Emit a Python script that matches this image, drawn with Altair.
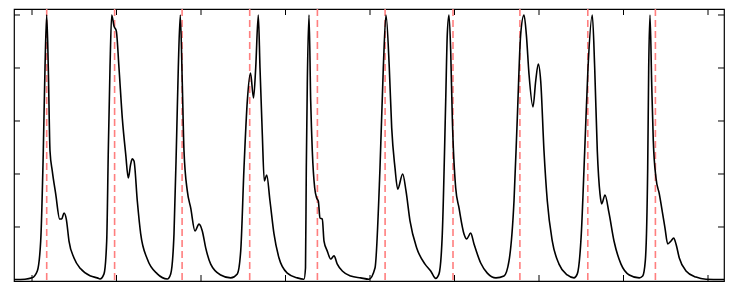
import altair as alt
import pandas as pd

# signal trace (time units, normalised amplitude)
sig_x = [
    0, 11, 18, 23.3, 26.7, 29.3, 31, 32.7, 34.3, 36, 38.3, 41.7, 45.7, 47.7, 50, 52.3, 55, 60, 66.7, 76.7, 83.3, 86,
    90, 92.7, 94.3, 96, 97.7, 100, 102.3, 105, 108.3, 111.7, 114.3, 116.7, 118.3, 120, 123.3, 126.7, 133.3, 143.3, 153.3,
    156.7, 160, 162.7, 164.3, 166.3, 168.3, 170, 173.3, 176.7, 181, 185, 188.3, 191.7, 196.7, 206.7, 216.7,
    223.3, 226.7, 230, 233.3, 236.5, 239.5, 241.7, 244.3, 246, 248.3, 250.3, 252.7, 256, 260, 265, 273.3, 283.3, 290,
    291.5, 292.3, 293.3, 295, 296.7, 298.3, 300.7, 302.7, 304.3, 306, 308.3, 310, 313.3, 316.7, 320, 323.3, 328.3, 336.7, 346.7, 355,
    361, 366, 369.3, 372, 375.3, 377.7, 381, 383.7, 388.7, 392, 396, 402.7, 411, 416.7, 421.7,
    425, 428.3, 431.7, 433.3, 435, 436.7, 438.3, 441.7, 445, 450, 452.7, 456.7, 460, 466.7, 473.3, 482,
    490, 495, 500, 503.3, 506.7, 510, 512.3, 515, 519, 521.7, 524.3, 526.7, 530, 533.3, 538.3, 545, 553.3, 560,
    563.3, 567.3, 570.7, 574, 578.3, 580.7, 583.3, 586, 587.7, 591, 595, 600, 607, 615.3, 625.3,
    628.7, 631.3, 633.7, 634.7, 636, 637.7, 639.3, 642, 645.3, 648.7, 651, 653.7, 657, 659.7, 662, 665.3, 672, 682, 692, 710,
]
sig_y = [
    0.002, 0.003, 0.008, 0.034, 0.147, 0.487, 0.800, 1.0, 0.800, 0.487, 0.411, 0.325, 0.230, 0.230, 0.253, 0.230, 0.147, 0.083, 0.042, 0.015, 0.008, 0.004,
    0.023, 0.147, 0.487, 0.800, 1.0, 0.958, 0.940, 0.800, 0.611, 0.475, 0.385, 0.438, 0.457, 0.449, 0.298, 0.174, 0.079, 0.023, 0.004,
    0.023, 0.174, 0.551, 0.800, 1.0, 0.740, 0.487, 0.336, 0.272, 0.185, 0.211, 0.185, 0.121, 0.060, 0.019, 0.008,
    0.023, 0.109, 0.423, 0.675, 0.781, 0.687, 0.800, 1.0, 0.800, 0.551, 0.374, 0.396, 0.298, 0.174, 0.083, 0.026, 0.008, 0.003,
    0.045, 0.423, 0.740, 1.0, 0.675, 0.487, 0.347, 0.309, 0.298, 0.234, 0.230, 0.147, 0.109, 0.079, 0.091, 0.060, 0.034, 0.015, 0.008, 0.003,
    0.045, 0.423, 0.800, 1.0, 0.800, 0.574, 0.423, 0.343, 0.400, 0.336, 0.223, 0.121, 0.060, 0.034, 0.006,
    0.023, 0.174, 0.675, 0.928, 1.0, 0.864, 0.611, 0.347, 0.272, 0.174, 0.155, 0.177, 0.136, 0.064, 0.026, 0.008,
    0.015, 0.072, 0.298, 0.611, 0.928, 1.0, 0.928, 0.777, 0.653, 0.751, 0.815, 0.751, 0.487, 0.298, 0.147, 0.060, 0.019, 0.008,
    0.023, 0.174, 0.487, 0.800, 1.0, 0.800, 0.487, 0.325, 0.287, 0.321, 0.253, 0.147, 0.060, 0.019, 0.008,
    0.015, 0.072, 0.423, 0.800, 1.0, 0.740, 0.525, 0.385, 0.325, 0.249, 0.196, 0.136, 0.147, 0.158, 0.136, 0.083, 0.034, 0.011, 0.003, 0.002,
]

# red dashed event markers
event_x = [32.7, 100.6, 168.1, 235.7, 303.4, 371.1, 439.0, 505.9, 573.8, 641.4]

# tick positions
x_ticks = [18, 102.5, 187, 271.5, 356, 440.5, 525, 609.5, 694]
y_ticks = [0.2, 0.4, 0.6, 0.8, 1.0]

W, H = 710, 272
TL = 6

sig = pd.DataFrame({"x": sig_x, "y": sig_y})
ev = pd.DataFrame({"x": event_x})
xt = pd.DataFrame({"x": x_ticks})
yt = pd.DataFrame({"y": y_ticks})

xs = alt.Scale(domain=[0, 710], nice=False, zero=False)
ys = alt.Scale(domain=[-0.0038, 1.0226], nice=False, zero=False)

events = alt.Chart(ev).mark_rule(color="#ff7f7f", strokeWidth=1.6, strokeDash=[7, 4]).encode(
    x=alt.X("x:Q", scale=xs, axis=None)
)

line = alt.Chart(sig).mark_line(color="black", strokeWidth=1.6, interpolate="monotone").encode(
    x=alt.X("x:Q", scale=xs, axis=None),
    y=alt.Y("y:Q", scale=ys, axis=None),
)

xt_top = alt.Chart(xt).mark_rule(color="black", strokeWidth=1).encode(
    x=alt.X("x:Q", scale=xs, axis=None), y=alt.value(0), y2=alt.value(TL)
)
xt_bot = alt.Chart(xt).mark_rule(color="black", strokeWidth=1).encode(
    x=alt.X("x:Q", scale=xs, axis=None), y=alt.value(H), y2=alt.value(H - TL)
)
yt_left = alt.Chart(yt).mark_rule(color="black", strokeWidth=1).encode(
    y=alt.Y("y:Q", scale=ys, axis=None), x=alt.value(0), x2=alt.value(TL)
)
yt_right = alt.Chart(yt).mark_rule(color="black", strokeWidth=1).encode(
    y=alt.Y("y:Q", scale=ys, axis=None), x=alt.value(W), x2=alt.value(W - TL)
)

chart = alt.layer(events, line, xt_top, xt_bot, yt_left, yt_right).properties(
    width=W, height=H,
    padding={"left": 6, "top": 1, "right": 8, "bottom": 1},
    autosize=alt.AutoSizeParams(type="none"),
).configure_view(stroke="black", strokeWidth=1.2)

chart.save("out.html", embed_options={"renderer": "svg", "actions": False})
